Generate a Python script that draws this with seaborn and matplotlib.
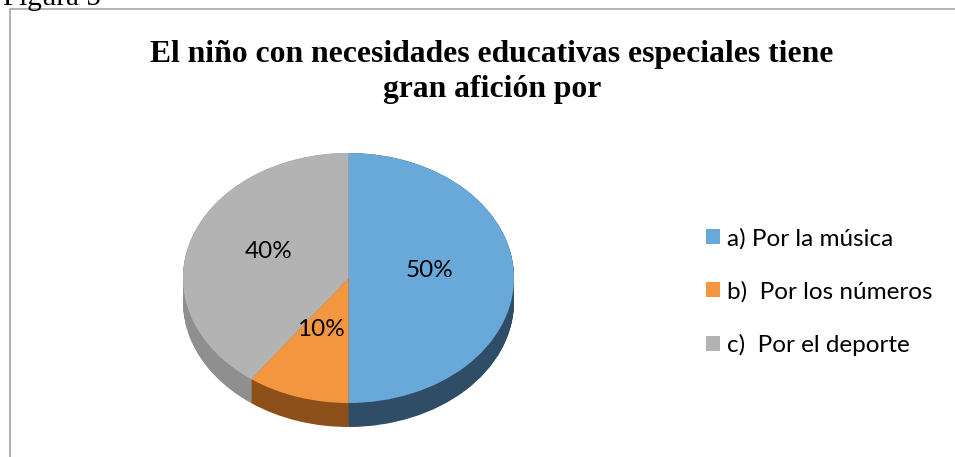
import numpy as np
import matplotlib
matplotlib.use("Agg")
import matplotlib.pyplot as plt
import seaborn as sns
from matplotlib.patches import Rectangle

# data
categories = ["a) Por la música", "b)  Por los números", "c)  Por el deporte"]
values = [50, 10, 40]
top_colors = ["#69A9DA", "#F4963F", "#B3B3B3"]
side_colors = ["#2F4D67", "#8E501B", "#8F8F8F"]
title_lines = ["El niño con necesidades educativas especiales tiene", "gran afición por"]

sns.set_theme(style="white")
plt.rcParams["font.family"] = ["Lato", "DejaVu Sans"]
plt.rcParams["text.color"] = "black"

W, H = 955, 457
fig = plt.figure(figsize=(W / 100, H / 100), dpi=100)

# pie geometry in pixels: center (348, 278 from top), radii 165 x 125, depth 24
cx, cy = 348.5, H - 278
rx, ry = 165.5, 125.0
depth = 24 / ry
ax_w, ax_h = 420, 330
ax = fig.add_axes([(cx - ax_w / 2) / W, (cy - ax_h / 2) / H, ax_w / W, ax_h / H])

# extruded side: stack of darker pies shifted downward
for off in np.linspace(-depth, 0, 30):
    ax.pie(values, colors=side_colors, startangle=90, counterclock=False,
           center=(0, off), radius=1, frame=True,
           wedgeprops=dict(linewidth=0))

wedges, _, autotexts = ax.pie(
    values, colors=top_colors, startangle=90, counterclock=False,
    center=(0, 0), radius=1, frame=True, autopct="%d%%", pctdistance=0.5,
    wedgeprops=dict(linewidth=0),
    textprops=dict(fontsize=17.5, color="black"))
for t in autotexts:
    x, y = t.get_position()
    t.set_position((x - 0.01, y + 0.06))

ax.set_aspect("auto")
ax.set_xlim(-ax_w / 2 / rx, ax_w / 2 / rx)
ax.set_ylim(-ax_h / 2 / ry, ax_h / 2 / ry)
ax.axis("off")

# legend
fig.legend(wedges, categories, loc="center left",
           bbox_to_anchor=(684 / W, 1 - 292 / H), frameon=False,
           fontsize=17.5, handlelength=0.58, handleheight=0.58,
           handletextpad=0.3, labelspacing=1.3)

# title
serif = ["Liberation Serif", "DejaVu Serif"]
fig.text(492 / W, 1 - 62 / H, title_lines[0], ha="center", va="baseline",
         fontsize=22.8, fontweight="bold", family=serif, color="black")
fig.text(492 / W, 1 - 97 / H, title_lines[1], ha="center", va="baseline",
         fontsize=22.8, fontweight="bold", family=serif, color="black")

# caption cut at top and chart border
fig.text(3 / W, 1 - 5 / H, "Figura 5", ha="left", va="baseline",
         fontsize=21, family=serif, color="black")
fig.add_artist(Rectangle((9.5 / W, -0.1), 1.0, 1.1 - 9.5 / H,
                         transform=fig.transFigure, fill=False,
                         ec="#A6A6A6", lw=1.2))

fig.savefig("out.png", dpi=100)
